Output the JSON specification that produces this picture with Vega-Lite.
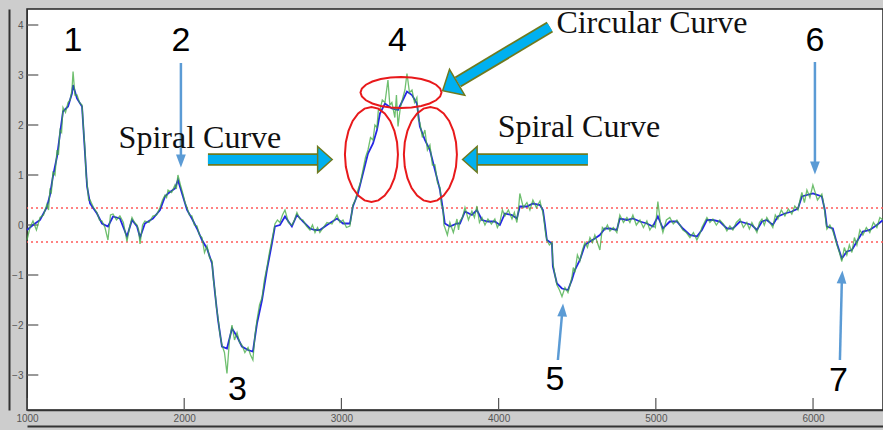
{
  "$schema": "https://vega.github.io/schema/vega-lite/v6.json",
  "width": 856,
  "height": 401,
  "autosize": {"type": "none"},
  "padding": {"left": 27, "top": 9, "right": 0, "bottom": 20},
  "background": "#cdcdcd",
  "config": {
    "view": {"fill": "white", "stroke": "#222", "strokeWidth": 1.5},
    "axis": {"labelFont": "Liberation Sans", "labelFontSize": 10, "labelColor": "#555", "grid": false, "title": null, "domainColor": "#333", "tickColor": "#444", "labelFlush": false}
  },
  "datasets": {
    "blue": [
      {"x":1000,"y":-0.1},{"x":1038,"y":0},{"x":1083,"y":0.1},{"x":1127,"y":0.36},{"x":1146,"y":0.6},{"x":1165,"y":0.97},{"x":1191,"y":1.37},{"x":1210,"y":1.83},{"x":1229,"y":2.27},{"x":1261,"y":2.37},{"x":1286,"y":2.63},{"x":1293,"y":2.8},{"x":1318,"y":2.53},{"x":1350,"y":2.37},{"x":1369,"y":1.43},{"x":1382,"y":0.77},{"x":1401,"y":0.43},{"x":1445,"y":0.23},{"x":1477,"y":0.03},{"x":1515,"y":-0.03},{"x":1547,"y":0.17},{"x":1591,"y":0.13},{"x":1636,"y":-0.23},{"x":1668,"y":0.1},{"x":1700,"y":-0.03},{"x":1719,"y":-0.25},{"x":1750,"y":0.03},{"x":1801,"y":0.13},{"x":1846,"y":0.3},{"x":1878,"y":0.57},{"x":1897,"y":0.63},{"x":1941,"y":0.73},{"x":1960,"y":0.9},{"x":1992,"y":0.57},{"x":2018,"y":0.3},{"x":2049,"y":0.13},{"x":2081,"y":-0.07},{"x":2113,"y":-0.3},{"x":2145,"y":-0.47},{"x":2177,"y":-0.77},{"x":2196,"y":-1.37},{"x":2215,"y":-1.9},{"x":2240,"y":-2.43},{"x":2272,"y":-2.47},{"x":2304,"y":-2.07},{"x":2336,"y":-2.23},{"x":2367,"y":-2.43},{"x":2406,"y":-2.5},{"x":2437,"y":-2.53},{"x":2463,"y":-1.97},{"x":2495,"y":-1.5},{"x":2526,"y":-0.9},{"x":2558,"y":-0.37},{"x":2577,"y":-0.03},{"x":2609,"y":0},{"x":2641,"y":0.17},{"x":2685,"y":-0.03},{"x":2717,"y":0.2},{"x":2755,"y":0.07},{"x":2800,"y":-0.07},{"x":2832,"y":-0.1},{"x":2863,"y":-0.1},{"x":2908,"y":0},{"x":2972,"y":0.13},{"x":3010,"y":0.03},{"x":3054,"y":0.03},{"x":3073,"y":0.37},{"x":3105,"y":0.63},{"x":3137,"y":1.03},{"x":3169,"y":1.43},{"x":3201,"y":1.63},{"x":3226,"y":1.9},{"x":3245,"y":2.23},{"x":3277,"y":2.43},{"x":3321,"y":2.33},{"x":3360,"y":2.3},{"x":3391,"y":2.5},{"x":3417,"y":2.67},{"x":3449,"y":2.6},{"x":3480,"y":2.43},{"x":3499,"y":1.97},{"x":3531,"y":1.7},{"x":3563,"y":1.5},{"x":3595,"y":1.1},{"x":3627,"y":0.7},{"x":3646,"y":0.3},{"x":3658,"y":0.03},{"x":3690,"y":-0.03},{"x":3735,"y":0.03},{"x":3754,"y":0.03},{"x":3786,"y":0.27},{"x":3830,"y":0.2},{"x":3862,"y":0.3},{"x":3894,"y":0.1},{"x":3932,"y":0.07},{"x":3976,"y":0.07},{"x":4008,"y":0},{"x":4040,"y":0.23},{"x":4085,"y":0.2},{"x":4116,"y":0.13},{"x":4135,"y":0.37},{"x":4180,"y":0.37},{"x":4218,"y":0.43},{"x":4263,"y":0.4},{"x":4282,"y":0.3},{"x":4294,"y":0.03},{"x":4307,"y":-0.3},{"x":4339,"y":-0.37},{"x":4345,"y":-0.83},{"x":4371,"y":-1.17},{"x":4403,"y":-1.27},{"x":4441,"y":-1.3},{"x":4466,"y":-1.1},{"x":4485,"y":-0.9},{"x":4517,"y":-0.7},{"x":4549,"y":-0.4},{"x":4581,"y":-0.33},{"x":4612,"y":-0.27},{"x":4644,"y":-0.2},{"x":4676,"y":-0.07},{"x":4708,"y":-0.07},{"x":4752,"y":-0.1},{"x":4771,"y":0.13},{"x":4816,"y":0.1},{"x":4854,"y":0.13},{"x":4899,"y":0.07},{"x":4943,"y":0.03},{"x":4981,"y":-0.03},{"x":5013,"y":0.17},{"x":5045,"y":-0.07},{"x":5089,"y":0.07},{"x":5134,"y":0.07},{"x":5172,"y":-0.07},{"x":5217,"y":-0.2},{"x":5261,"y":-0.23},{"x":5293,"y":-0.1},{"x":5325,"y":0.1},{"x":5363,"y":0.1},{"x":5407,"y":0.07},{"x":5452,"y":-0.07},{"x":5490,"y":-0.07},{"x":5535,"y":0.07},{"x":5579,"y":0.03},{"x":5611,"y":0},{"x":5643,"y":-0.1},{"x":5675,"y":0.07},{"x":5706,"y":0.1},{"x":5744,"y":0},{"x":5776,"y":0.17},{"x":5821,"y":0.23},{"x":5865,"y":0.27},{"x":5904,"y":0.33},{"x":5929,"y":0.57},{"x":5961,"y":0.6},{"x":5999,"y":0.63},{"x":6056,"y":0.57},{"x":6075,"y":0.3},{"x":6088,"y":-0.03},{"x":6126,"y":-0.07},{"x":6152,"y":-0.37},{"x":6183,"y":-0.67},{"x":6215,"y":-0.53},{"x":6247,"y":-0.5},{"x":6279,"y":-0.33},{"x":6317,"y":-0.13},{"x":6361,"y":-0.1},{"x":6406,"y":0},{"x":6445,"y":0.1}
    ],
    "green": [
      {"x":1000,"y":-0.3},{"x":1019,"y":-0.05},{"x":1038,"y":0.08},{"x":1060,"y":-0.1},{"x":1083,"y":0.15},{"x":1105,"y":0.2},{"x":1127,"y":0.42},{"x":1137,"y":0.3},{"x":1146,"y":0.7},{"x":1155,"y":0.65},{"x":1165,"y":1.05},{"x":1178,"y":1.0},{"x":1191,"y":1.5},{"x":1200,"y":1.4},{"x":1210,"y":1.9},{"x":1220,"y":1.85},{"x":1229,"y":2.35},{"x":1245,"y":2.25},{"x":1261,"y":2.45},{"x":1274,"y":2.5},{"x":1286,"y":2.7},{"x":1293,"y":3.07},{"x":1305,"y":2.6},{"x":1318,"y":2.6},{"x":1334,"y":2.45},{"x":1350,"y":2.4},{"x":1360,"y":1.9},{"x":1369,"y":1.5},{"x":1376,"y":1.0},{"x":1382,"y":0.85},{"x":1392,"y":0.5},{"x":1401,"y":0.5},{"x":1423,"y":0.35},{"x":1445,"y":0.25},{"x":1461,"y":0.1},{"x":1477,"y":0.08},{"x":1496,"y":-0.05},{"x":1515,"y":-0.3},{"x":1531,"y":0.2},{"x":1547,"y":0.22},{"x":1569,"y":0.1},{"x":1591,"y":0.18},{"x":1613,"y":0.05},{"x":1636,"y":-0.33},{"x":1652,"y":-0.05},{"x":1668,"y":0.15},{"x":1684,"y":0.05},{"x":1700,"y":0.0},{"x":1710,"y":-0.1},{"x":1719,"y":-0.38},{"x":1735,"y":0.0},{"x":1750,"y":0.08},{"x":1776,"y":0.05},{"x":1801,"y":0.18},{"x":1824,"y":0.2},{"x":1846,"y":0.35},{"x":1862,"y":0.5},{"x":1878,"y":0.6},{"x":1888,"y":0.55},{"x":1897,"y":0.7},{"x":1920,"y":0.65},{"x":1941,"y":0.8},{"x":1950,"y":0.72},{"x":1960,"y":1.0},{"x":1976,"y":0.8},{"x":1992,"y":0.62},{"x":2005,"y":0.45},{"x":2018,"y":0.35},{"x":2033,"y":0.2},{"x":2049,"y":0.18},{"x":2065,"y":0.0},{"x":2081,"y":-0.02},{"x":2097,"y":-0.2},{"x":2113,"y":-0.25},{"x":2129,"y":-0.55},{"x":2145,"y":-0.42},{"x":2161,"y":-0.65},{"x":2177,"y":-0.72},{"x":2186,"y":-1.1},{"x":2196,"y":-1.32},{"x":2205,"y":-1.65},{"x":2215,"y":-1.85},{"x":2228,"y":-2.2},{"x":2240,"y":-2.4},{"x":2256,"y":-2.55},{"x":2272,"y":-2.97},{"x":2288,"y":-2.3},{"x":2304,"y":-2.0},{"x":2320,"y":-2.3},{"x":2336,"y":-2.15},{"x":2352,"y":-2.35},{"x":2367,"y":-2.4},{"x":2386,"y":-2.55},{"x":2406,"y":-2.45},{"x":2422,"y":-2.6},{"x":2437,"y":-2.7},{"x":2450,"y":-2.2},{"x":2463,"y":-1.9},{"x":2479,"y":-1.6},{"x":2495,"y":-1.45},{"x":2510,"y":-1.1},{"x":2526,"y":-0.85},{"x":2542,"y":-0.55},{"x":2558,"y":-0.3},{"x":2567,"y":-0.15},{"x":2577,"y":0.02},{"x":2593,"y":0.1},{"x":2609,"y":0.05},{"x":2625,"y":0.2},{"x":2641,"y":0.3},{"x":2663,"y":0.05},{"x":2685,"y":0.0},{"x":2701,"y":0.1},{"x":2717,"y":0.25},{"x":2736,"y":0.12},{"x":2755,"y":0.1},{"x":2778,"y":-0.02},{"x":2800,"y":-0.1},{"x":2816,"y":0.0},{"x":2832,"y":-0.15},{"x":2848,"y":-0.05},{"x":2863,"y":-0.15},{"x":2885,"y":-0.05},{"x":2908,"y":0.05},{"x":2940,"y":0.02},{"x":2972,"y":0.2},{"x":2991,"y":0.05},{"x":3010,"y":0.1},{"x":3032,"y":-0.05},{"x":3054,"y":-0.02},{"x":3064,"y":0.2},{"x":3073,"y":0.4},{"x":3089,"y":0.5},{"x":3105,"y":0.7},{"x":3121,"y":0.85},{"x":3137,"y":1.1},{"x":3153,"y":1.35},{"x":3169,"y":1.5},{"x":3185,"y":1.75},{"x":3201,"y":1.7},{"x":3213,"y":2.0},{"x":3226,"y":1.95},{"x":3235,"y":2.3},{"x":3245,"y":2.3},{"x":3260,"y":2.5},{"x":3277,"y":2.45},{"x":3296,"y":2.9},{"x":3308,"y":2.4},{"x":3321,"y":2.45},{"x":3340,"y":2.15},{"x":3350,"y":2.6},{"x":3360,"y":1.97},{"x":3375,"y":2.35},{"x":3391,"y":2.55},{"x":3404,"y":2.7},{"x":3417,"y":3.03},{"x":3433,"y":2.65},{"x":3449,"y":2.7},{"x":3465,"y":2.45},{"x":3480,"y":2.55},{"x":3490,"y":2.1},{"x":3499,"y":2.05},{"x":3515,"y":1.75},{"x":3531,"y":1.9},{"x":3547,"y":1.5},{"x":3563,"y":1.6},{"x":3579,"y":1.2},{"x":3595,"y":1.2},{"x":3611,"y":0.85},{"x":3627,"y":0.75},{"x":3636,"y":0.4},{"x":3646,"y":0.35},{"x":3652,"y":0.0},{"x":3658,"y":-0.05},{"x":3674,"y":-0.2},{"x":3690,"y":0.05},{"x":3712,"y":-0.15},{"x":3735,"y":0.12},{"x":3745,"y":-0.1},{"x":3754,"y":0.08},{"x":3770,"y":0.15},{"x":3786,"y":0.35},{"x":3808,"y":0.1},{"x":3830,"y":0.28},{"x":3846,"y":0.15},{"x":3862,"y":0.38},{"x":3878,"y":0.05},{"x":3894,"y":0.15},{"x":3913,"y":0.0},{"x":3932,"y":0.12},{"x":3954,"y":0.02},{"x":3976,"y":0.12},{"x":3992,"y":-0.05},{"x":4008,"y":0.05},{"x":4024,"y":0.3},{"x":4040,"y":0.18},{"x":4062,"y":0.3},{"x":4085,"y":0.12},{"x":4100,"y":0.25},{"x":4116,"y":0.05},{"x":4126,"y":0.3},{"x":4135,"y":0.63},{"x":4157,"y":0.35},{"x":4180,"y":0.45},{"x":4199,"y":0.3},{"x":4218,"y":0.5},{"x":4240,"y":0.35},{"x":4263,"y":0.48},{"x":4272,"y":0.35},{"x":4282,"y":0.25},{"x":4288,"y":0.1},{"x":4294,"y":-0.05},{"x":4300,"y":-0.2},{"x":4307,"y":-0.3},{"x":4323,"y":-0.4},{"x":4339,"y":-0.35},{"x":4345,"y":-0.75},{"x":4358,"y":-1.0},{"x":4371,"y":-1.2},{"x":4387,"y":-1.3},{"x":4403,"y":-1.43},{"x":4422,"y":-1.25},{"x":4441,"y":-1.35},{"x":4454,"y":-1.2},{"x":4466,"y":-1.05},{"x":4475,"y":-0.85},{"x":4485,"y":-0.95},{"x":4501,"y":-0.6},{"x":4517,"y":-0.72},{"x":4533,"y":-0.5},{"x":4549,"y":-0.35},{"x":4565,"y":-0.45},{"x":4581,"y":-0.25},{"x":4597,"y":-0.35},{"x":4612,"y":-0.2},{"x":4628,"y":-0.35},{"x":4644,"y":-0.5},{"x":4660,"y":-0.05},{"x":4676,"y":-0.1},{"x":4692,"y":0.0},{"x":4708,"y":-0.12},{"x":4730,"y":-0.05},{"x":4752,"y":-0.15},{"x":4762,"y":0.05},{"x":4771,"y":0.2},{"x":4794,"y":0.05},{"x":4816,"y":0.15},{"x":4835,"y":0.05},{"x":4854,"y":0.2},{"x":4876,"y":0.0},{"x":4899,"y":0.1},{"x":4921,"y":-0.05},{"x":4943,"y":0.08},{"x":4962,"y":-0.1},{"x":4981,"y":0.0},{"x":4997,"y":-0.05},{"x":5013,"y":0.47},{"x":5029,"y":0.05},{"x":5045,"y":-0.15},{"x":5067,"y":0.1},{"x":5089,"y":0.15},{"x":5111,"y":0.02},{"x":5134,"y":0.1},{"x":5153,"y":0.0},{"x":5172,"y":-0.1},{"x":5194,"y":-0.15},{"x":5217,"y":-0.25},{"x":5239,"y":-0.15},{"x":5261,"y":-0.3},{"x":5277,"y":-0.2},{"x":5293,"y":-0.05},{"x":5309,"y":0.05},{"x":5325,"y":0.15},{"x":5344,"y":0.05},{"x":5363,"y":0.12},{"x":5385,"y":0.0},{"x":5407,"y":0.1},{"x":5430,"y":0.02},{"x":5452,"y":-0.12},{"x":5471,"y":-0.02},{"x":5490,"y":-0.1},{"x":5512,"y":0.05},{"x":5535,"y":0.12},{"x":5557,"y":-0.05},{"x":5579,"y":0.05},{"x":5595,"y":-0.08},{"x":5611,"y":0.05},{"x":5627,"y":-0.05},{"x":5643,"y":-0.15},{"x":5659,"y":0.05},{"x":5675,"y":0.12},{"x":5690,"y":0.0},{"x":5706,"y":0.15},{"x":5725,"y":0.05},{"x":5744,"y":-0.05},{"x":5760,"y":0.2},{"x":5776,"y":0.12},{"x":5798,"y":0.3},{"x":5821,"y":0.18},{"x":5843,"y":0.32},{"x":5865,"y":0.22},{"x":5884,"y":0.38},{"x":5904,"y":0.3},{"x":5917,"y":0.5},{"x":5929,"y":0.65},{"x":5945,"y":0.45},{"x":5961,"y":0.7},{"x":5980,"y":0.55},{"x":5999,"y":0.8},{"x":6028,"y":0.5},{"x":6056,"y":0.62},{"x":6066,"y":0.45},{"x":6075,"y":0.25},{"x":6082,"y":0.05},{"x":6088,"y":-0.08},{"x":6107,"y":0.0},{"x":6126,"y":-0.12},{"x":6139,"y":-0.25},{"x":6152,"y":-0.4},{"x":6168,"y":-0.55},{"x":6183,"y":-0.73},{"x":6199,"y":-0.45},{"x":6215,"y":-0.6},{"x":6231,"y":-0.4},{"x":6247,"y":-0.55},{"x":6263,"y":-0.25},{"x":6279,"y":-0.4},{"x":6298,"y":-0.1},{"x":6317,"y":-0.2},{"x":6339,"y":-0.05},{"x":6361,"y":-0.15},{"x":6384,"y":0.05},{"x":6406,"y":-0.05},{"x":6425,"y":0.15},{"x":6445,"y":0.1}
    ],
    "thresholds": [{"t": 0.34}, {"t": -0.34}],
    "xticks": [{"x":1000,"y":-3.7,"y2":-3.46},{"x":2000,"y":-3.7,"y2":-3.46},{"x":3000,"y":-3.7,"y2":-3.46},{"x":4000,"y":-3.7,"y2":-3.46},{"x":5000,"y":-3.7,"y2":-3.46},{"x":6000,"y":-3.7,"y2":-3.46}],
    "yticks": [{"y":-3,"x":1000,"x2":1072},{"y":-2,"x":1000,"x2":1072},{"y":-1,"x":1000,"x2":1072},{"y":0,"x":1000,"x2":1072},{"y":1,"x":1000,"x2":1072},{"y":2,"x":1000,"x2":1072},{"y":3,"x":1000,"x2":1072},{"y":4,"x":1000,"x2":1072}],
    "numbers": [
      {"x":1293,"y":3.68,"label":"1"},{"x":1979,"y":3.68,"label":"2"},{"x":2339,"y":-3.3,"label":"3"},{"x":3356,"y":3.68,"label":"4"},{"x":4358,"y":-3.1,"label":"5"},{"x":6012,"y":3.68,"label":"6"},{"x":6161,"y":-3.12,"label":"7"}
    ],
    "captions": [
      {"x":2100,"y":1.54,"label":"Spiral Curve"},{"x":4511,"y":1.76,"label":"Spiral Curve"},{"x":4975,"y":3.84,"label":"Circular Curve"}
    ],
    "thinShafts": [
      {"x":1979,"y":3.24,"x2":1979,"y2":1.36},{"x":6012,"y":3.26,"x2":6012,"y2":1.22},{"x":4377,"y":-2.7,"x2":4403,"y2":-1.8},{"x":6171,"y":-2.7,"x2":6183,"y2":-1.14}
    ],
    "thinHeadsDown": [{"x":1979,"y":1.28},{"x":6012,"y":1.14}],
    "thinHeadsUp": [{"x":4407,"y":-1.7},{"x":6184,"y":-1.04}],
    "blockShafts": [
      {"x":2151,"y":1.31,"x2":2865,"y2":1.31},{"x":3830,"y":1.31,"x2":4568,"y2":1.31},{"x":4326,"y":3.96,"x2":3741,"y2":2.86}
    ],
    "headRight": [{"x":2895,"y":1.31}],
    "headLeft": [{"x":3817,"y":1.31}],
    "headDiag": [{"x":3690,"y":2.77}],
    "ellipseTop": [{"x":3379,"y":2.65}],
    "ellipseSides": [{"x":3191,"y":1.41},{"x":3566,"y":1.41}]
  },
  "layer": [
    {
      "data": {"name": "thresholds"},
      "mark": {"type": "rule", "color": "#ff5a5a", "strokeDash": [2, 3], "strokeWidth": 1.5},
      "encoding": {
        "y": {"field": "t", "type": "quantitative", "scale": {"domain": [-3.7, 4.32], "nice": false, "zero": false}, "axis": null}
      }
    },
    {
      "data": {"name": "xticks"},
      "mark": {"type": "rule", "color": "#555", "strokeWidth": 1.2},
      "encoding": {
        "x": {"field": "x", "type": "quantitative", "scale": {"domain": [1000, 6445], "nice": false, "zero": false}, "axis": null},
        "y": {"field": "y", "type": "quantitative", "scale": {"domain": [-3.7, 4.32], "nice": false, "zero": false}, "axis": null},
        "y2": {"field": "y2"}
      }
    },
    {
      "data": {"name": "yticks"},
      "mark": {"type": "rule", "color": "#555", "strokeWidth": 1.2},
      "encoding": {
        "x": {"field": "x", "type": "quantitative", "scale": {"domain": [1000, 6445], "nice": false, "zero": false}, "axis": null},
        "x2": {"field": "x2"},
        "y": {"field": "y", "type": "quantitative", "scale": {"domain": [-3.7, 4.32], "nice": false, "zero": false}, "axis": null}
      }
    },
    {
      "data": {"name": "blue"},
      "mark": {"type": "line", "color": "#2626e6", "strokeWidth": 1.8},
      "encoding": {
        "x": {"field": "x", "type": "quantitative", "scale": {"domain": [1000, 6445], "nice": false, "zero": false},
              "axis": {"orient": "bottom", "values": [1000, 2000, 3000, 4000, 5000, 6000], "format": "d", "ticks": false, "labelPadding": 3, "domainWidth": 1.5}},
        "y": {"field": "y", "type": "quantitative", "scale": {"domain": [-3.7, 4.32], "nice": false, "zero": false},
              "axis": {"orient": "left", "values": [-3, -2, -1, 0, 1, 2, 3, 4], "format": "d", "ticks": false, "labelPadding": 4, "domainWidth": 1}}
      }
    },
    {
      "data": {"name": "green"},
      "mark": {"type": "line", "color": "#3faa3f", "strokeWidth": 1.3, "opacity": 0.75},
      "encoding": {
        "x": {"field": "x", "type": "quantitative", "scale": {"domain": [1000, 6445], "nice": false, "zero": false},
              "axis": {"orient": "bottom", "offset": 16, "ticks": false, "labels": false, "domainWidth": 2, "domainColor": "#333"}},
        "y": {"field": "y", "type": "quantitative", "scale": {"domain": [-3.7, 4.32], "nice": false, "zero": false},
              "axis": {"orient": "left", "offset": 18, "ticks": false, "labels": false, "domainWidth": 2, "domainColor": "#333"}}
      }
    },
    {
      "data": {"name": "ellipseTop"},
      "mark": {"type": "point", "filled": false, "stroke": "#e8191b", "strokeWidth": 2, "opacity": 1, "size": 6561,
               "shape": "M1,0L0.966,0.099L0.866,0.192L0.707,0.271L0.5,0.332L0.259,0.37L0,0.383L-0.259,0.37L-0.5,0.332L-0.707,0.271L-0.866,0.192L-0.966,0.099L-1,0L-0.966,-0.099L-0.866,-0.192L-0.707,-0.271L-0.5,-0.332L-0.259,-0.37L0,-0.383L0.259,-0.37L0.5,-0.332L0.707,-0.271L0.866,-0.192L0.966,-0.099Z"},
      "encoding": {
        "x": {"field": "x", "type": "quantitative", "scale": {"domain": [1000, 6445], "nice": false, "zero": false}, "axis": null},
        "y": {"field": "y", "type": "quantitative", "scale": {"domain": [-3.7, 4.32], "nice": false, "zero": false}, "axis": null}
      }
    },
    {
      "data": {"name": "ellipseSides"},
      "mark": {"type": "point", "filled": false, "stroke": "#e8191b", "strokeWidth": 2, "opacity": 1, "size": 9025,
               "shape": "M0.558,0L0.539,0.259L0.483,0.5L0.395,0.707L0.279,0.866L0.145,0.966L0,1L-0.145,0.966L-0.279,0.866L-0.395,0.707L-0.483,0.5L-0.539,0.259L-0.558,0L-0.539,-0.259L-0.483,-0.5L-0.395,-0.707L-0.279,-0.866L-0.145,-0.966L0,-1L0.145,-0.966L0.279,-0.866L0.395,-0.707L0.483,-0.5L0.539,-0.259Z"},
      "encoding": {
        "x": {"field": "x", "type": "quantitative", "scale": {"domain": [1000, 6445], "nice": false, "zero": false}, "axis": null},
        "y": {"field": "y", "type": "quantitative", "scale": {"domain": [-3.7, 4.32], "nice": false, "zero": false}, "axis": null}
      }
    },
    {
      "data": {"name": "thinShafts"},
      "mark": {"type": "rule", "color": "#5b9bd5", "strokeWidth": 2.5},
      "encoding": {
        "x": {"field": "x", "type": "quantitative", "scale": {"domain": [1000, 6445], "nice": false, "zero": false}, "axis": null},
        "y": {"field": "y", "type": "quantitative", "scale": {"domain": [-3.7, 4.32], "nice": false, "zero": false}, "axis": null},
        "x2": {"field": "x2"},
        "y2": {"field": "y2"}
      }
    },
    {
      "data": {"name": "thinHeadsDown"},
      "mark": {"type": "point", "filled": true, "color": "#5b9bd5", "opacity": 1, "size": 169, "shape": "M0,1L-0.75,-1L0.75,-1Z"},
      "encoding": {
        "x": {"field": "x", "type": "quantitative", "scale": {"domain": [1000, 6445], "nice": false, "zero": false}, "axis": null},
        "y": {"field": "y", "type": "quantitative", "scale": {"domain": [-3.7, 4.32], "nice": false, "zero": false}, "axis": null}
      }
    },
    {
      "data": {"name": "thinHeadsUp"},
      "mark": {"type": "point", "filled": true, "color": "#5b9bd5", "opacity": 1, "size": 169, "angle": 4, "shape": "M0,-1L0.75,1L-0.75,1Z"},
      "encoding": {
        "x": {"field": "x", "type": "quantitative", "scale": {"domain": [1000, 6445], "nice": false, "zero": false}, "axis": null},
        "y": {"field": "y", "type": "quantitative", "scale": {"domain": [-3.7, 4.32], "nice": false, "zero": false}, "axis": null}
      }
    },
    {
      "data": {"name": "blockShafts"},
      "mark": {"type": "rule", "color": "#6e7a1f", "strokeWidth": 12.5, "strokeCap": "butt"},
      "encoding": {
        "x": {"field": "x", "type": "quantitative", "scale": {"domain": [1000, 6445], "nice": false, "zero": false}, "axis": null},
        "y": {"field": "y", "type": "quantitative", "scale": {"domain": [-3.7, 4.32], "nice": false, "zero": false}, "axis": null},
        "x2": {"field": "x2"},
        "y2": {"field": "y2"}
      }
    },
    {
      "data": {"name": "blockShafts"},
      "mark": {"type": "rule", "color": "#00b0f0", "strokeWidth": 9, "strokeCap": "butt"},
      "encoding": {
        "x": {"field": "x", "type": "quantitative", "scale": {"domain": [1000, 6445], "nice": false, "zero": false}, "axis": null},
        "y": {"field": "y", "type": "quantitative", "scale": {"domain": [-3.7, 4.32], "nice": false, "zero": false}, "axis": null},
        "x2": {"field": "x2"},
        "y2": {"field": "y2"}
      }
    },
    {
      "data": {"name": "headRight"},
      "mark": {"type": "point", "filled": true, "fill": "#00b0f0", "stroke": "#6e7a1f", "strokeWidth": 1.5, "opacity": 1, "size": 676, "shape": "M-0.56,-1L0.56,0L-0.56,1Z"},
      "encoding": {
        "x": {"field": "x", "type": "quantitative", "scale": {"domain": [1000, 6445], "nice": false, "zero": false}, "axis": null},
        "y": {"field": "y", "type": "quantitative", "scale": {"domain": [-3.7, 4.32], "nice": false, "zero": false}, "axis": null}
      }
    },
    {
      "data": {"name": "headLeft"},
      "mark": {"type": "point", "filled": true, "fill": "#00b0f0", "stroke": "#6e7a1f", "strokeWidth": 1.5, "opacity": 1, "size": 676, "angle": 180, "shape": "M-0.56,-1L0.56,0L-0.56,1Z"},
      "encoding": {
        "x": {"field": "x", "type": "quantitative", "scale": {"domain": [1000, 6445], "nice": false, "zero": false}, "axis": null},
        "y": {"field": "y", "type": "quantitative", "scale": {"domain": [-3.7, 4.32], "nice": false, "zero": false}, "axis": null}
      }
    },
    {
      "data": {"name": "headDiag"},
      "mark": {"type": "point", "filled": true, "fill": "#00b0f0", "stroke": "#6e7a1f", "strokeWidth": 1.5, "opacity": 1, "size": 900, "angle": 149.5, "shape": "M-0.56,-1L0.56,0L-0.56,1Z"},
      "encoding": {
        "x": {"field": "x", "type": "quantitative", "scale": {"domain": [1000, 6445], "nice": false, "zero": false}, "axis": null},
        "y": {"field": "y", "type": "quantitative", "scale": {"domain": [-3.7, 4.32], "nice": false, "zero": false}, "axis": null}
      }
    },
    {
      "data": {"name": "numbers"},
      "mark": {"type": "text", "font": "Liberation Sans", "fontSize": 34, "color": "black", "baseline": "middle", "align": "center"},
      "encoding": {
        "x": {"field": "x", "type": "quantitative", "scale": {"domain": [1000, 6445], "nice": false, "zero": false}, "axis": null},
        "y": {"field": "y", "type": "quantitative", "scale": {"domain": [-3.7, 4.32], "nice": false, "zero": false}, "axis": null},
        "text": {"field": "label"}
      }
    },
    {
      "data": {"name": "captions"},
      "mark": {"type": "text", "font": "Liberation Serif", "fontSize": 32, "color": "#111", "baseline": "alphabetic", "align": "center"},
      "encoding": {
        "x": {"field": "x", "type": "quantitative", "scale": {"domain": [1000, 6445], "nice": false, "zero": false}, "axis": null},
        "y": {"field": "y", "type": "quantitative", "scale": {"domain": [-3.7, 4.32], "nice": false, "zero": false}, "axis": null},
        "text": {"field": "label"}
      }
    }
  ],
  "resolve": {"axis": {"x": "independent", "y": "independent"}}
}
